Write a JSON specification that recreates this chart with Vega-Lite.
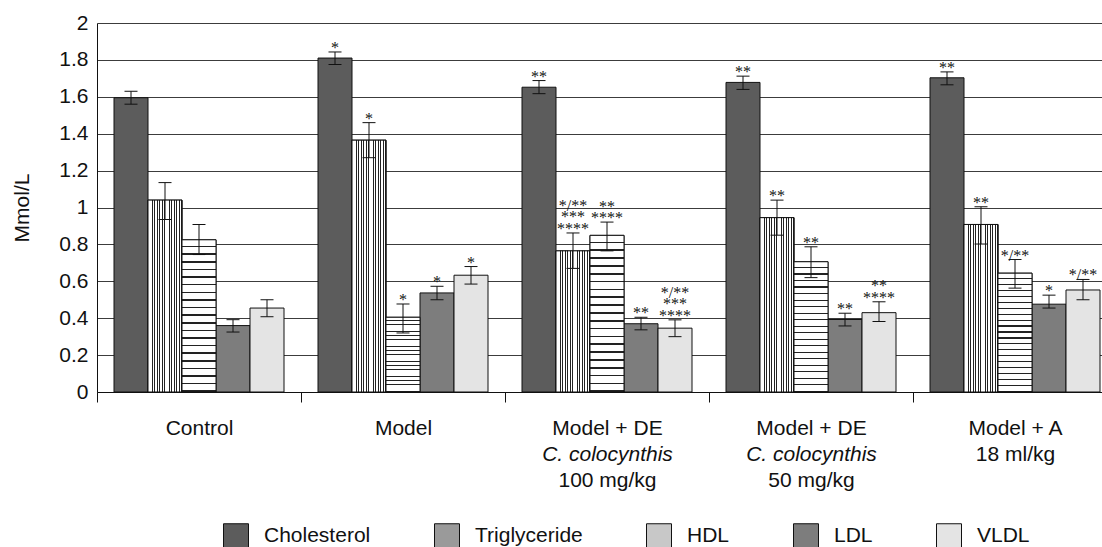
{
  "$schema": "https://vega.github.io/schema/vega-lite/v6.json",
  "width": 1005,
  "height": 369,
  "autosize": {"type": "none"},
  "padding": {"left": 97, "top": 23, "right": 0, "bottom": 155},
  "background": "white",
  "config": {"view": {"stroke": null}, "font": "Liberation Sans"},
  "data": {
    "values": [
      {"group": "Control", "lipid": "Cholesterol", "value": 1.595, "lo": 1.56, "hi": 1.63, "sig": ""},
      {"group": "Control", "lipid": "Triglyceride", "value": 1.04, "lo": 0.935, "hi": 1.135, "sig": ""},
      {"group": "Control", "lipid": "HDL", "value": 0.825, "lo": 0.745, "hi": 0.908, "sig": ""},
      {"group": "Control", "lipid": "LDL", "value": 0.36, "lo": 0.325, "hi": 0.392, "sig": ""},
      {"group": "Control", "lipid": "VLDL", "value": 0.455, "lo": 0.408, "hi": 0.5, "sig": ""},
      {"group": "Model", "lipid": "Cholesterol", "value": 1.81, "lo": 1.775, "hi": 1.843, "sig": "*"},
      {"group": "Model", "lipid": "Triglyceride", "value": 1.365, "lo": 1.27, "hi": 1.46, "sig": "*"},
      {"group": "Model", "lipid": "HDL", "value": 0.405, "lo": 0.32, "hi": 0.477, "sig": "*"},
      {"group": "Model", "lipid": "LDL", "value": 0.537, "lo": 0.5, "hi": 0.573, "sig": "*"},
      {"group": "Model", "lipid": "VLDL", "value": 0.633, "lo": 0.585, "hi": 0.68, "sig": "*"},
      {"group": "DE100", "lipid": "Cholesterol", "value": 1.652, "lo": 1.617, "hi": 1.688, "sig": "**"},
      {"group": "DE100", "lipid": "Triglyceride", "value": 0.765, "lo": 0.67, "hi": 0.862, "sig": "*/**\n***\n****"},
      {"group": "DE100", "lipid": "HDL", "value": 0.849, "lo": 0.765, "hi": 0.921, "sig": "**\n****"},
      {"group": "DE100", "lipid": "LDL", "value": 0.37, "lo": 0.337, "hi": 0.405, "sig": "**"},
      {"group": "DE100", "lipid": "VLDL", "value": 0.346, "lo": 0.3, "hi": 0.391, "sig": "*/**\n***\n****"},
      {"group": "DE50", "lipid": "Cholesterol", "value": 1.678, "lo": 1.64, "hi": 1.712, "sig": "**"},
      {"group": "DE50", "lipid": "Triglyceride", "value": 0.945, "lo": 0.85, "hi": 1.04, "sig": "**"},
      {"group": "DE50", "lipid": "HDL", "value": 0.706, "lo": 0.62, "hi": 0.787, "sig": "**"},
      {"group": "DE50", "lipid": "LDL", "value": 0.393, "lo": 0.358, "hi": 0.427, "sig": "**"},
      {"group": "DE50", "lipid": "VLDL", "value": 0.43, "lo": 0.382, "hi": 0.489, "sig": "**\n****"},
      {"group": "A", "lipid": "Cholesterol", "value": 1.703, "lo": 1.665, "hi": 1.735, "sig": "**"},
      {"group": "A", "lipid": "Triglyceride", "value": 0.908, "lo": 0.802, "hi": 1.004, "sig": "**"},
      {"group": "A", "lipid": "HDL", "value": 0.644, "lo": 0.563, "hi": 0.718, "sig": "*/**"},
      {"group": "A", "lipid": "LDL", "value": 0.476, "lo": 0.455, "hi": 0.525, "sig": "*"},
      {"group": "A", "lipid": "VLDL", "value": 0.553, "lo": 0.5, "hi": 0.61, "sig": "*/**"}
    ]
  },
  "layer": [
    {
      "mark": {"type": "bar", "stroke": "#111", "strokeWidth": 1},
      "encoding": {
        "x": {
          "field": "group", "type": "nominal",
          "sort": ["Control", "Model", "DE100", "DE50", "A"],
          "scale": {"range": [0, 1020], "paddingInner": 0, "paddingOuter": 0},
          "axis": {
            "orient": "bottom", "title": null, "domainColor": "#111", "domainWidth": 1,
            "tickColor": "#111", "tickSize": 10, "tickBand": "extent",
            "labelFontSize": 21, "labelColor": "#111", "labelPadding": 15, "labelLineHeight": 26.3,
            "labelAngle": 0, "labelBaseline": "top", "grid": false,
            "labelExpr": "datum.value == 'Control' ? 'Control' : datum.value == 'Model' ? 'Model' : (datum.value == 'DE100' || datum.value == 'DE50') ? 'Model + DE' : datum.value == 'A' ? ['Model + A', '18 ml/kg'] : ''"
          }
        },
        "xOffset": {
          "field": "lipid", "type": "nominal",
          "sort": ["Cholesterol", "Triglyceride", "HDL", "LDL", "VLDL"],
          "scale": {"paddingInner": 0, "paddingOuter": 0.5}
        },
        "y": {
          "field": "value", "type": "quantitative",
          "scale": {"domain": [0, 2], "nice": false},
          "axis": {
            "title": "Mmol/L", "titleFontSize": 21, "titleFontWeight": "normal", "titleColor": "#111",
            "titlePadding": 26, "tickCount": 10, "format": "~g", "labelOverlap": false,
            "labelFontSize": 21, "labelColor": "#111", "labelPadding": 9, "ticks": false,
            "domainColor": "#111", "domainWidth": 1,
            "grid": true, "gridColor": "#3c3c3c", "gridWidth": 1
          }
        },
        "fill": {
          "field": "lipid", "type": "nominal",
          "scale": {
            "domain": ["Cholesterol", "Triglyceride", "HDL", "LDL", "VLDL"],
            "range": ["#5c5c5c", "#9a9a9a", "#c8c8c8", "#7d7d7d", "#e4e4e4"]
          },
          "legend": {
            "orient": "none", "legendX": 126, "legendY": 500, "direction": "horizontal",
            "title": null, "symbolType": "square", "symbolSize": 625,
            "symbolStrokeColor": "#111", "symbolStrokeWidth": 1, "symbolOpacity": 1,
            "labelFontSize": 21, "labelColor": "#111", "labelOffset": 15, "columnPadding": 61,
            "labelLimit": 400, "padding": 0
          }
        }
      }
    },
    {
      "transform": [{"filter": {"field": "lipid", "equal": "Triglyceride"}}],
      "mark": {
        "type": "bar", "stroke": "#111", "strokeWidth": 1,
        "fill": {"gradient": "linear", "x1": 0, "y1": 0, "x2": 1, "y2": 0, "stops": [
          {"offset": 0, "color": "#fff"}, {"offset": 0.0443, "color": "#fff"}, {"offset": 0.0443, "color": "#222"}, {"offset": 0.0714, "color": "#222"},
          {"offset": 0.0714, "color": "#fff"}, {"offset": 0.1157, "color": "#fff"}, {"offset": 0.1157, "color": "#222"}, {"offset": 0.1429, "color": "#222"},
          {"offset": 0.1429, "color": "#fff"}, {"offset": 0.1871, "color": "#fff"}, {"offset": 0.1871, "color": "#222"}, {"offset": 0.2143, "color": "#222"},
          {"offset": 0.2143, "color": "#fff"}, {"offset": 0.2586, "color": "#fff"}, {"offset": 0.2586, "color": "#222"}, {"offset": 0.2857, "color": "#222"},
          {"offset": 0.2857, "color": "#fff"}, {"offset": 0.33, "color": "#fff"}, {"offset": 0.33, "color": "#222"}, {"offset": 0.3571, "color": "#222"},
          {"offset": 0.3571, "color": "#fff"}, {"offset": 0.4014, "color": "#fff"}, {"offset": 0.4014, "color": "#222"}, {"offset": 0.4286, "color": "#222"},
          {"offset": 0.4286, "color": "#fff"}, {"offset": 0.4729, "color": "#fff"}, {"offset": 0.4729, "color": "#222"}, {"offset": 0.5, "color": "#222"},
          {"offset": 0.5, "color": "#fff"}, {"offset": 0.5443, "color": "#fff"}, {"offset": 0.5443, "color": "#222"}, {"offset": 0.5714, "color": "#222"},
          {"offset": 0.5714, "color": "#fff"}, {"offset": 0.6157, "color": "#fff"}, {"offset": 0.6157, "color": "#222"}, {"offset": 0.6429, "color": "#222"},
          {"offset": 0.6429, "color": "#fff"}, {"offset": 0.6871, "color": "#fff"}, {"offset": 0.6871, "color": "#222"}, {"offset": 0.7143, "color": "#222"},
          {"offset": 0.7143, "color": "#fff"}, {"offset": 0.7586, "color": "#fff"}, {"offset": 0.7586, "color": "#222"}, {"offset": 0.7857, "color": "#222"},
          {"offset": 0.7857, "color": "#fff"}, {"offset": 0.83, "color": "#fff"}, {"offset": 0.83, "color": "#222"}, {"offset": 0.8571, "color": "#222"},
          {"offset": 0.8571, "color": "#fff"}, {"offset": 0.9014, "color": "#fff"}, {"offset": 0.9014, "color": "#222"}, {"offset": 0.9286, "color": "#222"},
          {"offset": 0.9286, "color": "#fff"}, {"offset": 0.9729, "color": "#fff"}, {"offset": 0.9729, "color": "#222"}, {"offset": 1, "color": "#222"}
        ]}
      },
      "encoding": {
        "x": {"field": "group", "type": "nominal", "sort": ["Control", "Model", "DE100", "DE50", "A"], "axis": null},
        "xOffset": {"field": "lipid", "type": "nominal", "sort": ["Cholesterol", "Triglyceride", "HDL", "LDL", "VLDL"]},
        "y": {"field": "value", "type": "quantitative"}
      }
    },
    {
      "transform": [{"filter": {"field": "lipid", "equal": "HDL"}}],
      "mark": {
        "type": "bar", "stroke": "#111", "strokeWidth": 1,
        "fill": {"gradient": "linear", "x1": 0, "y1": 0, "x2": 0, "y2": 1, "stops": [
          {"offset": 0, "color": "#fff"}, {"offset": 0.04, "color": "#fff"}, {"offset": 0.04, "color": "#222"}, {"offset": 0.05, "color": "#222"},
          {"offset": 0.05, "color": "#fff"}, {"offset": 0.09, "color": "#fff"}, {"offset": 0.09, "color": "#222"}, {"offset": 0.1, "color": "#222"},
          {"offset": 0.1, "color": "#fff"}, {"offset": 0.14, "color": "#fff"}, {"offset": 0.14, "color": "#222"}, {"offset": 0.15, "color": "#222"},
          {"offset": 0.15, "color": "#fff"}, {"offset": 0.19, "color": "#fff"}, {"offset": 0.19, "color": "#222"}, {"offset": 0.2, "color": "#222"},
          {"offset": 0.2, "color": "#fff"}, {"offset": 0.24, "color": "#fff"}, {"offset": 0.24, "color": "#222"}, {"offset": 0.25, "color": "#222"},
          {"offset": 0.25, "color": "#fff"}, {"offset": 0.29, "color": "#fff"}, {"offset": 0.29, "color": "#222"}, {"offset": 0.3, "color": "#222"},
          {"offset": 0.3, "color": "#fff"}, {"offset": 0.34, "color": "#fff"}, {"offset": 0.34, "color": "#222"}, {"offset": 0.35, "color": "#222"},
          {"offset": 0.35, "color": "#fff"}, {"offset": 0.39, "color": "#fff"}, {"offset": 0.39, "color": "#222"}, {"offset": 0.4, "color": "#222"},
          {"offset": 0.4, "color": "#fff"}, {"offset": 0.44, "color": "#fff"}, {"offset": 0.44, "color": "#222"}, {"offset": 0.45, "color": "#222"},
          {"offset": 0.45, "color": "#fff"}, {"offset": 0.49, "color": "#fff"}, {"offset": 0.49, "color": "#222"}, {"offset": 0.5, "color": "#222"},
          {"offset": 0.5, "color": "#fff"}, {"offset": 0.54, "color": "#fff"}, {"offset": 0.54, "color": "#222"}, {"offset": 0.55, "color": "#222"},
          {"offset": 0.55, "color": "#fff"}, {"offset": 0.59, "color": "#fff"}, {"offset": 0.59, "color": "#222"}, {"offset": 0.6, "color": "#222"},
          {"offset": 0.6, "color": "#fff"}, {"offset": 0.64, "color": "#fff"}, {"offset": 0.64, "color": "#222"}, {"offset": 0.65, "color": "#222"},
          {"offset": 0.65, "color": "#fff"}, {"offset": 0.69, "color": "#fff"}, {"offset": 0.69, "color": "#222"}, {"offset": 0.7, "color": "#222"},
          {"offset": 0.7, "color": "#fff"}, {"offset": 0.74, "color": "#fff"}, {"offset": 0.74, "color": "#222"}, {"offset": 0.75, "color": "#222"},
          {"offset": 0.75, "color": "#fff"}, {"offset": 0.79, "color": "#fff"}, {"offset": 0.79, "color": "#222"}, {"offset": 0.8, "color": "#222"},
          {"offset": 0.8, "color": "#fff"}, {"offset": 0.84, "color": "#fff"}, {"offset": 0.84, "color": "#222"}, {"offset": 0.85, "color": "#222"},
          {"offset": 0.85, "color": "#fff"}, {"offset": 0.89, "color": "#fff"}, {"offset": 0.89, "color": "#222"}, {"offset": 0.9, "color": "#222"},
          {"offset": 0.9, "color": "#fff"}, {"offset": 0.94, "color": "#fff"}, {"offset": 0.94, "color": "#222"}, {"offset": 0.95, "color": "#222"},
          {"offset": 0.95, "color": "#fff"}, {"offset": 0.99, "color": "#fff"}, {"offset": 0.99, "color": "#222"}, {"offset": 1, "color": "#222"}
        ]}
      },
      "encoding": {
        "x": {"field": "group", "type": "nominal", "sort": ["Control", "Model", "DE100", "DE50", "A"], "axis": null},
        "xOffset": {"field": "lipid", "type": "nominal", "sort": ["Cholesterol", "Triglyceride", "HDL", "LDL", "VLDL"]},
        "y": {"field": "value", "type": "quantitative"}
      }
    },
    {
      "mark": {"type": "rule", "color": "#111", "strokeWidth": 1},
      "encoding": {
        "x": {
          "field": "group", "type": "nominal", "sort": ["Control", "Model", "DE100", "DE50", "A"],
          "axis": {
            "orient": "bottom", "title": null, "domain": false,
            "tickColor": "transparent", "tickSize": 10, "tickBand": "extent",
            "labelFontSize": 21, "labelColor": "#111", "labelPadding": 67.6,
            "labelAngle": 0, "labelBaseline": "top", "grid": false,
            "labelExpr": "datum.value == 'DE100' ? '100 mg/kg' : datum.value == 'DE50' ? '50 mg/kg' : ''"
          }
        },
        "xOffset": {"field": "lipid", "type": "nominal", "sort": ["Cholesterol", "Triglyceride", "HDL", "LDL", "VLDL"]},
        "y": {"field": "lo", "type": "quantitative"},
        "y2": {"field": "hi"}
      }
    },
    {
      "mark": {"type": "tick", "orient": "horizontal", "size": 13, "thickness": 1, "color": "#111", "opacity": 1},
      "encoding": {
        "x": {"field": "group", "type": "nominal", "sort": ["Control", "Model", "DE100", "DE50", "A"], "axis": null},
        "xOffset": {"field": "lipid", "type": "nominal", "sort": ["Cholesterol", "Triglyceride", "HDL", "LDL", "VLDL"]},
        "y": {"field": "hi", "type": "quantitative"}
      }
    },
    {
      "mark": {"type": "tick", "orient": "horizontal", "size": 13, "thickness": 1, "color": "#111", "opacity": 1},
      "encoding": {
        "x": {"field": "group", "type": "nominal", "sort": ["Control", "Model", "DE100", "DE50", "A"], "axis": null},
        "xOffset": {"field": "lipid", "type": "nominal", "sort": ["Cholesterol", "Triglyceride", "HDL", "LDL", "VLDL"]},
        "y": {"field": "lo", "type": "quantitative"}
      }
    },
    {
      "transform": [{"filter": "datum.sig != '' && split(datum.sig, '\\n').length == 1"}],
      "mark": {"type": "text", "baseline": "bottom", "align": "center", "lineBreak": "\n", "fontSize": 16, "lineHeight": 11.5, "dy": 4, "color": "#111", "font": "Liberation Serif"},
      "encoding": {
        "x": {
          "field": "group", "type": "nominal", "sort": ["Control", "Model", "DE100", "DE50", "A"],
          "axis": {
            "orient": "bottom", "title": null, "domain": false,
            "tickColor": "transparent", "tickSize": 10, "tickBand": "extent",
            "labelFontSize": 21, "labelFontStyle": "italic", "labelColor": "#111", "labelPadding": 41.3,
            "labelAngle": 0, "labelBaseline": "top", "grid": false,
            "labelExpr": "(datum.value == 'DE100' || datum.value == 'DE50') ? 'C. colocynthis' : ''"
          }
        },
        "xOffset": {"field": "lipid", "type": "nominal", "sort": ["Cholesterol", "Triglyceride", "HDL", "LDL", "VLDL"]},
        "y": {"field": "hi", "type": "quantitative"},
        "text": {"field": "sig"}
      }
    },
    {
      "transform": [{"filter": "split(datum.sig, '\\n').length == 2"}],
      "mark": {"type": "text", "baseline": "bottom", "align": "center", "lineBreak": "\n", "fontSize": 16, "lineHeight": 11.5, "dy": -7.5, "color": "#111", "font": "Liberation Serif"},
      "encoding": {
        "x": {"field": "group", "type": "nominal", "sort": ["Control", "Model", "DE100", "DE50", "A"], "axis": null},
        "xOffset": {"field": "lipid", "type": "nominal", "sort": ["Cholesterol", "Triglyceride", "HDL", "LDL", "VLDL"]},
        "y": {"field": "hi", "type": "quantitative"},
        "text": {"field": "sig"}
      }
    },
    {
      "transform": [{"filter": "split(datum.sig, '\\n').length == 3"}],
      "mark": {"type": "text", "baseline": "bottom", "align": "center", "lineBreak": "\n", "fontSize": 16, "lineHeight": 11.5, "dy": -19, "color": "#111", "font": "Liberation Serif"},
      "encoding": {
        "x": {"field": "group", "type": "nominal", "sort": ["Control", "Model", "DE100", "DE50", "A"], "axis": null},
        "xOffset": {"field": "lipid", "type": "nominal", "sort": ["Cholesterol", "Triglyceride", "HDL", "LDL", "VLDL"]},
        "y": {"field": "hi", "type": "quantitative"},
        "text": {"field": "sig"}
      }
    }
  ],
  "resolve": {"axis": {"x": "independent"}}
}
